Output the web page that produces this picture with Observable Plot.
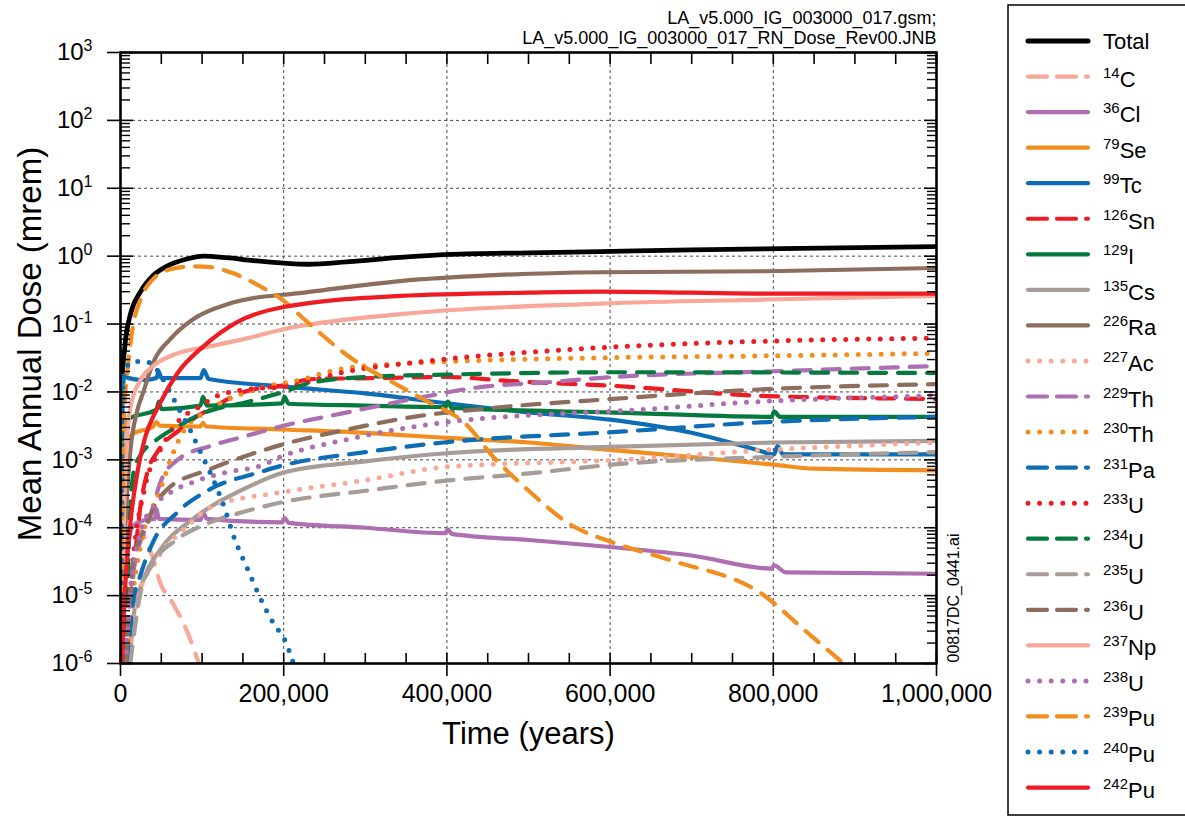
<!DOCTYPE html>
<html><head><meta charset="utf-8">
<script src="https://cdn.jsdelivr.net/npm/d3@7"></script>
<script src="https://cdn.jsdelivr.net/npm/@observablehq/plot@0.6"></script>
<style>
html,body{margin:0;padding:0;background:#fff;}
#chart{position:relative;width:1185px;height:817px;overflow:hidden;}
</style></head><body><div id="chart"></div><script>
// ---------- data: [time (years), mean annual dose (mrem)] ----------
const total = [[1000,0.014],[3700,0.03],[7000,0.07],[12200,0.14],[24500,0.3],[40000,0.52],[57600,0.72],[80000,0.9],[101700,1.0],[130000,0.95],[163000,0.86],[200000,0.79],[230000,0.76],[280000,0.83],[343000,0.96],[404000,1.06],[500000,1.12],[588000,1.17],[700000,1.24],[833000,1.3],[1000000,1.38]];
const c14 = [[2000,1e-6],[6000,3e-5],[12000,1e-4],[20000,1.2e-4],[30000,7e-5],[40000,3.5e-5],[49000,1.5e-5],[61000,8.9e-6],[82000,2.9e-6],[96000,1e-6]];
const cl36 = [[2500,1e-6],[5000,1e-5],[9000,5e-5],[15000,1.05e-4],[30000,1.3e-4],[42000,1.35e-4],[44000,1.9e-4],[47000,1.35e-4],[98000,1.3e-4],[101000,1.7e-4],[106000,1.35e-4],[198000,1.2e-4],[201000,1.4e-4],[206000,1.18e-4],[300000,1.0e-4],[398000,8.3e-5],[401000,9.5e-5],[406000,8.1e-5],[500000,6.6e-5],[600000,5.2e-5],[700000,3.9e-5],[798000,2.5e-5],[801000,2.8e-5],[815000,2.2e-5],[1000000,2.1e-5]];
const se79 = [[500,1e-6],[2000,3e-4],[4000,1.2e-3],[8000,1.9e-3],[15000,2.4e-3],[40000,3.1e-3],[44000,3.6e-3],[48000,3.2e-3],[98000,3.1e-3],[101000,3.5e-3],[105000,3.1e-3],[200000,2.8e-3],[300000,2.5e-3],[400000,2.1e-3],[500000,1.8e-3],[600000,1.4e-3],[700000,1.1e-3],[800000,8.5e-4],[850000,7.4e-4],[1000000,7.0e-4]];
const tc99 = [[300,1e-6],[1500,1e-3],[3000,0.012],[5000,0.017],[10000,0.016],[30000,0.015],[44000,0.016],[47000,0.02],[50000,0.016],[98000,0.016],[102000,0.021],[108000,0.0155],[200000,0.012],[300000,0.0095],[400000,0.0068],[500000,0.005],[600000,0.0039],[700000,0.0025],[780000,0.0014],[801000,0.0012],[805000,0.0016],[812000,0.0012],[1000000,0.0012]];
const sn126 = [[9000,1e-6],[12200,7e-6],[16000,2.2e-5],[24500,2.1e-4],[33000,6.6e-4],[45000,1.3e-3],[57600,2e-3],[70000,2.6e-3],[89000,4e-3],[110000,5.6e-3],[151000,0.01],[200000,0.0125],[236000,0.0155],[318000,0.016],[400000,0.0166],[481000,0.0144],[604000,0.0123],[792000,0.0087],[1000000,0.0079]];
const i129 = [[500,1e-6],[1500,1e-3],[3000,0.003],[10000,0.004],[44000,0.0055],[47000,0.0072],[50000,0.0056],[98000,0.0063],[101000,0.0085],[106000,0.0063],[198000,0.0068],[201000,0.0085],[206000,0.0067],[300000,0.0063],[398000,0.006],[401000,0.0072],[406000,0.0058],[600000,0.005],[798000,0.0043],[801000,0.0052],[808000,0.0043],[1000000,0.0043]];
const cs135 = [[11000,1e-6],[16000,5e-6],[28000,1.7e-5],[49000,4.8e-5],[89000,1.35e-4],[151000,3.7e-4],[200000,6.5e-4],[300000,9.5e-4],[400000,1.25e-3],[600000,1.55e-3],[800000,1.8e-3],[1000000,1.9e-3]];
const ra226 = [[2000,1e-6],[5000,5e-5],[8000,3e-4],[12200,0.0014],[20000,0.005],[28000,0.01],[40000,0.027],[61000,0.06],[89000,0.118],[131000,0.196],[171000,0.25],[200000,0.27],[343000,0.43],[450000,0.52],[588000,0.58],[792000,0.6],[1000000,0.67]];
const ac227 = [[10000,1e-6],[20000,8e-6],[45000,3.5e-5],[80000,1.0e-4],[114000,2.1e-4],[196000,3.3e-4],[300000,5e-4],[396000,7.8e-4],[612000,1.0e-3],[792000,1.4e-3],[1000000,1.8e-3]];
const th229 = [[5000,1e-6],[15000,2e-5],[36700,1.5e-4],[49000,4.7e-4],[70000,1.0e-3],[110000,1.6e-3],[151000,2.2e-3],[196000,3.1e-3],[278000,5e-3],[359000,7.9e-3],[441000,0.0118],[523000,0.0139],[604000,0.0166],[792000,0.02],[1000000,0.024]];
const th230 = [[8000,1e-6],[15000,1e-5],[24500,5.4e-5],[49000,3.7e-4],[63700,1.2e-3],[77000,2.6e-3],[110000,5.5e-3],[175000,0.0117],[220000,0.015],[269000,0.0217],[343000,0.026],[400000,0.028],[600000,0.032],[792000,0.034],[1000000,0.037]];
const pa231 = [[9000,1e-6],[14700,7e-6],[24500,2e-5],[40000,6.2e-5],[70000,1.7e-4],[110000,3.7e-4],[171000,6.6e-4],[196000,8.1e-4],[300000,1.3e-3],[396000,1.8e-3],[612000,2.6e-3],[792000,3.6e-3],[1000000,4.3e-3]];
const u233 = [[6000,1e-6],[15000,3e-5],[30000,4e-4],[50000,1.5e-3],[70000,3.6e-3],[98000,6.2e-3],[118000,8.7e-3],[159000,0.011],[204000,0.012],[277000,0.02],[358000,0.027],[440000,0.034],[522000,0.04],[604000,0.046],[792000,0.056],[1000000,0.062]];
const u234 = [[6000,1e-6],[10000,5e-5],[16000,6.6e-4],[25000,1.2e-3],[40000,1.8e-3],[70000,3.1e-3],[98000,4.7e-3],[159000,7.3e-3],[200000,0.01],[236000,0.0139],[318000,0.017],[400000,0.018],[604000,0.0195],[1000000,0.019]];
const u235 = [[12000,1e-6],[24500,1.1e-5],[40000,3e-5],[70000,6.8e-5],[110000,1.2e-4],[150000,1.7e-4],[200000,2.4e-4],[300000,3.5e-4],[396000,4.9e-4],[500000,6.3e-4],[612000,8.7e-4],[792000,1.1e-3],[1000000,1.3e-3]];
const u236 = [[7000,1e-6],[15000,3e-5],[33000,1.2e-4],[40000,1.9e-4],[57600,3.7e-4],[110000,7.3e-4],[159000,1.2e-3],[200000,1.7e-3],[278000,2.8e-3],[359000,4.3e-3],[441000,5.6e-3],[604000,7.9e-3],[792000,0.011],[1000000,0.013]];
const np237 = [[1500,1e-6],[4000,1e-4],[8000,0.002],[12200,0.006],[24500,0.015],[40000,0.024],[70000,0.037],[110000,0.047],[151000,0.06],[200000,0.084],[343000,0.14],[588000,0.2],[792000,0.23],[1000000,0.26]];
const u238 = [[6000,1e-6],[12000,1e-5],[24500,8.6e-5],[40000,2e-4],[61000,3.3e-4],[89000,4.7e-4],[131000,6.6e-4],[171000,8.1e-4],[196000,1.1e-3],[278000,2.0e-3],[400000,3.6e-3],[523000,4.7e-3],[604000,5.2e-3],[792000,7.3e-3],[1000000,8.8e-3]];
const pu239 = [[1000,1e-6],[3000,1e-3],[5000,6e-3],[8600,0.021],[14700,0.084],[24500,0.23],[40000,0.46],[61000,0.64],[89000,0.71],[110000,0.69],[140000,0.55],[171000,0.36],[200000,0.22],[229000,0.107],[285000,0.03],[343000,0.012],[371000,0.0078],[425000,0.0032],[457000,0.0011],[494000,4.1e-4],[555000,1.05e-4],[601000,6.2e-5],[671000,3.4e-5],[790000,9.8e-6],[837000,3.2e-6],[886000,1e-6]];
const pu240 = [[500,1e-6],[2000,5e-3],[5000,0.02],[15000,0.028],[30000,0.028],[40000,0.025],[50000,0.017],[63700,0.0085],[71000,0.0058],[85700,0.0027],[98000,0.0013],[114000,5e-4],[128600,1.8e-4],[138000,7.9e-5],[155500,2.5e-5],[174000,7.9e-6],[190000,3.5e-6],[200000,2.4e-6],[212000,1.0e-6]];
const pu242 = [[1500,1e-6],[5000,1e-5],[12200,1.2e-4],[20800,6.6e-4],[28000,0.0017],[49000,0.007],[70000,0.019],[101700,0.047],[143000,0.107],[200000,0.178],[343000,0.26],[500000,0.29],[588000,0.3],[700000,0.29],[800000,0.28],[1000000,0.28]];

// categories (legend order) and tick values
const nuclides = ["Total","14C","36Cl","79Se","99Tc","126Sn","129I","135Cs","226Ra","227Ac","229Th","230Th","231Pa","233U","234U","235U","236U","237Np","238U","239Pu","240Pu","242Pu"];
const seriesData = [total,c14,cl36,se79,tc99,sn126,i129,cs135,ra226,ac227,th229,th230,pa231,u233,u234,u235,u236,np237,u238,pu239,pu240,pu242];
const yTickExponents = [-6,-5,-4,-3,-2,-1,0,1,2,3];
const xTickValues = [0,200000,400000,600000,800000,1000000];
const headerLines = ["LA_v5.000_IG_003000_017.gsm;", "LA_v5.000_IG_003000_017_RN_Dose_Rev00.JNB"];

// ---------- styles ----------
const C = {black:"#000000", salmon:"#F7A898", purple:"#AD6EB2", orange:"#F28E1E", blue:"#0D6DB5", red:"#ED1C24", green:"#067A3E", gray:"#A79C98", brown:"#8C6D5E"};
const styleOf = {
  "Total":["black","solid"], "14C":["salmon","dash"], "36Cl":["purple","solid"], "79Se":["orange","solid"],
  "99Tc":["blue","solid"], "126Sn":["red","dash"], "129I":["green","solid"], "135Cs":["gray","solid"],
  "226Ra":["brown","solid"], "227Ac":["salmon","dot"], "229Th":["purple","dash"], "230Th":["orange","dot"],
  "231Pa":["blue","dash"], "233U":["red","dot"], "234U":["green","dash"], "235U":["gray","dash"],
  "236U":["brown","dash"], "237Np":["salmon","solid"], "238U":["purple","dot"], "239Pu":["orange","dash"],
  "240Pu":["blue","dot"], "242Pu":["red","solid"]
};
const plotDash = {solid: null, dash: "17,12", dot: "0,11.5"};
const legendDash = {solid: null, dash: "19,10", dot: "0,11.6"};

const yTicks = yTickExponents.map(e => Math.pow(10, e));
const yGrid = yTicks.slice(1, -1);
const yMinor = [];
for (let e = -6; e < 3; e++) for (let m = 2; m <= 9; m++) yMinor.push(m * Math.pow(10, e));
const xMinor = d3.range(0, 1000001, 50000);
const xGrid = xTickValues.slice(1, -1);

const font = "'Liberation Sans', Arial, Helvetica, sans-serif";
const blank = () => "";

const lineMarks = nuclides.map((name, i) => {
  const [c, d] = styleOf[name];
  return Plot.line(seriesData[i], {
    x: d0 => d0[0], y: d0 => d0[1],
    stroke: C[c], strokeWidth: name === "Total" ? 4.8 : (d === "dot" ? 5 : 4.2),
    strokeDasharray: plotDash[d], strokeLinecap: "round", strokeLinejoin: "round",
    curve: "monotone-x", clip: true
  });
});

const svg = Plot.plot({
  width: 1185, height: 817,
  marginLeft: 120, marginRight: 249, marginTop: 52, marginBottom: 154,
  style: {fontFamily: font, background: "#fff", color: "#000", fontSize: "24px"},
  x: {domain: [0, 1000000]},
  y: {type: "log", domain: [1e-6, 1e3]},
  marks: [
    Plot.gridY(yGrid, {stroke: "#333", strokeOpacity: 1, strokeWidth: 0.9, strokeDasharray: "3,3"}),
    Plot.gridX(xGrid, {stroke: "#333", strokeOpacity: 1, strokeWidth: 0.9, strokeDasharray: "3,3"}),
    ...lineMarks,
    Plot.frame({stroke: "#000", strokeWidth: 2.6}),
    // left axis
    Plot.axisY({anchor: "left", ticks: yTicks, tickSize: 13, tickPadding: 15, strokeWidth: 1.6,
      tickFormat: d => "10^" + Math.round(Math.log10(d)), fontSize: 24, label: null}),
    Plot.axisY({anchor: "left", ticks: yTicks, tickSize: -13, strokeWidth: 1.6, tickFormat: blank, label: null}),
    Plot.axisY({anchor: "left", ticks: yMinor, tickSize: -10, strokeWidth: 1.4, tickFormat: blank, label: null}),
    // right axis
    Plot.axisY({anchor: "right", ticks: yTicks, tickSize: -13, strokeWidth: 1.6, tickFormat: blank, label: null}),
    Plot.axisY({anchor: "right", ticks: yMinor, tickSize: -10, strokeWidth: 1.4, tickFormat: blank, label: null}),
    // bottom axis
    Plot.axisX({anchor: "bottom", ticks: xTickValues, tickSize: 13, tickPadding: 8, strokeWidth: 1.6,
      tickFormat: d3.format(","), fontSize: 25, label: null}),
    Plot.axisX({anchor: "bottom", ticks: xMinor, tickSize: -10, strokeWidth: 1.6, tickFormat: blank, label: null}),
    // top axis
    Plot.axisX({anchor: "top", ticks: xMinor, tickSize: -11, strokeWidth: 1.6, tickFormat: blank, label: null}),
    // titles
    Plot.text(["Time (years)"], {text: d => d, frameAnchor: "bottom", textAnchor: "middle", lineAnchor: "middle", dy: 71, fontSize: 31}),
    Plot.text(["Mean Annual Dose (mrem)"], {text: d => d, frameAnchor: "left", textAnchor: "middle", lineAnchor: "middle", dx: -90, dy: -14, rotate: -90, fontSize: 33}),
    Plot.text([headerLines[0]], {text: d => d, frameAnchor: "top-right", textAnchor: "end", lineAnchor: "middle", dy: -34, fontSize: 18}),
    Plot.text([headerLines[1]], {text: d => d, frameAnchor: "top-right", textAnchor: "end", lineAnchor: "middle", dy: -14, fontSize: 18}),
    Plot.text(["00817DC_0441.ai"], {text: d => d, frameAnchor: "bottom-right", textAnchor: "start", lineAnchor: "middle", rotate: -90, dx: 17, dy: -1, fontSize: 16})
  ]
});

// superscript exponents on the y tick labels
d3.select(svg).selectAll("text").each(function () {
  const s = this.textContent;
  if (!/^10\^-?\d+$/.test(s)) return;
  const [b, e] = s.split("^");
  const t = d3.select(this);
  t.text(null);
  t.append("tspan").text(b);
  t.append("tspan").attr("font-size", 16).attr("dy", -9).text(e);
});

// legend
const lg = d3.select(svg).append("g").attr("font-family", font).attr("fill", "#000").attr("text-anchor", "start");
lg.append("rect").attr("x", 1008).attr("y", 5).attr("width", 200).attr("height", 810)
  .attr("fill", "none").attr("stroke", "#000").attr("stroke-width", 1.5);
nuclides.forEach((name, i) => {
  const [c, d] = styleOf[name];
  const yc = 41 + i * 35.55;
  lg.append("line").attr("x1", 1028).attr("x2", 1088).attr("y1", yc).attr("y2", yc)
    .attr("stroke", C[c]).attr("stroke-width", name === "Total" ? 5 : (d === "dot" ? 5 : 4.2))
    .attr("stroke-linecap", "round").attr("stroke-dasharray", legendDash[d]);
  const m = name.match(/^(\d+)(.+)$/);
  const t = lg.append("text").attr("x", 1103).attr("font-size", 22).attr("text-anchor", "start");
  if (m) {
    t.attr("y", yc + 10);
    t.append("tspan").attr("font-size", 15).attr("dy", -9).text(m[1]);
    t.append("tspan").attr("dy", 9).text(m[2]);
  } else {
    t.attr("y", yc + 8).text(name);
  }
});

document.getElementById("chart").appendChild(svg);
</script></body></html>
